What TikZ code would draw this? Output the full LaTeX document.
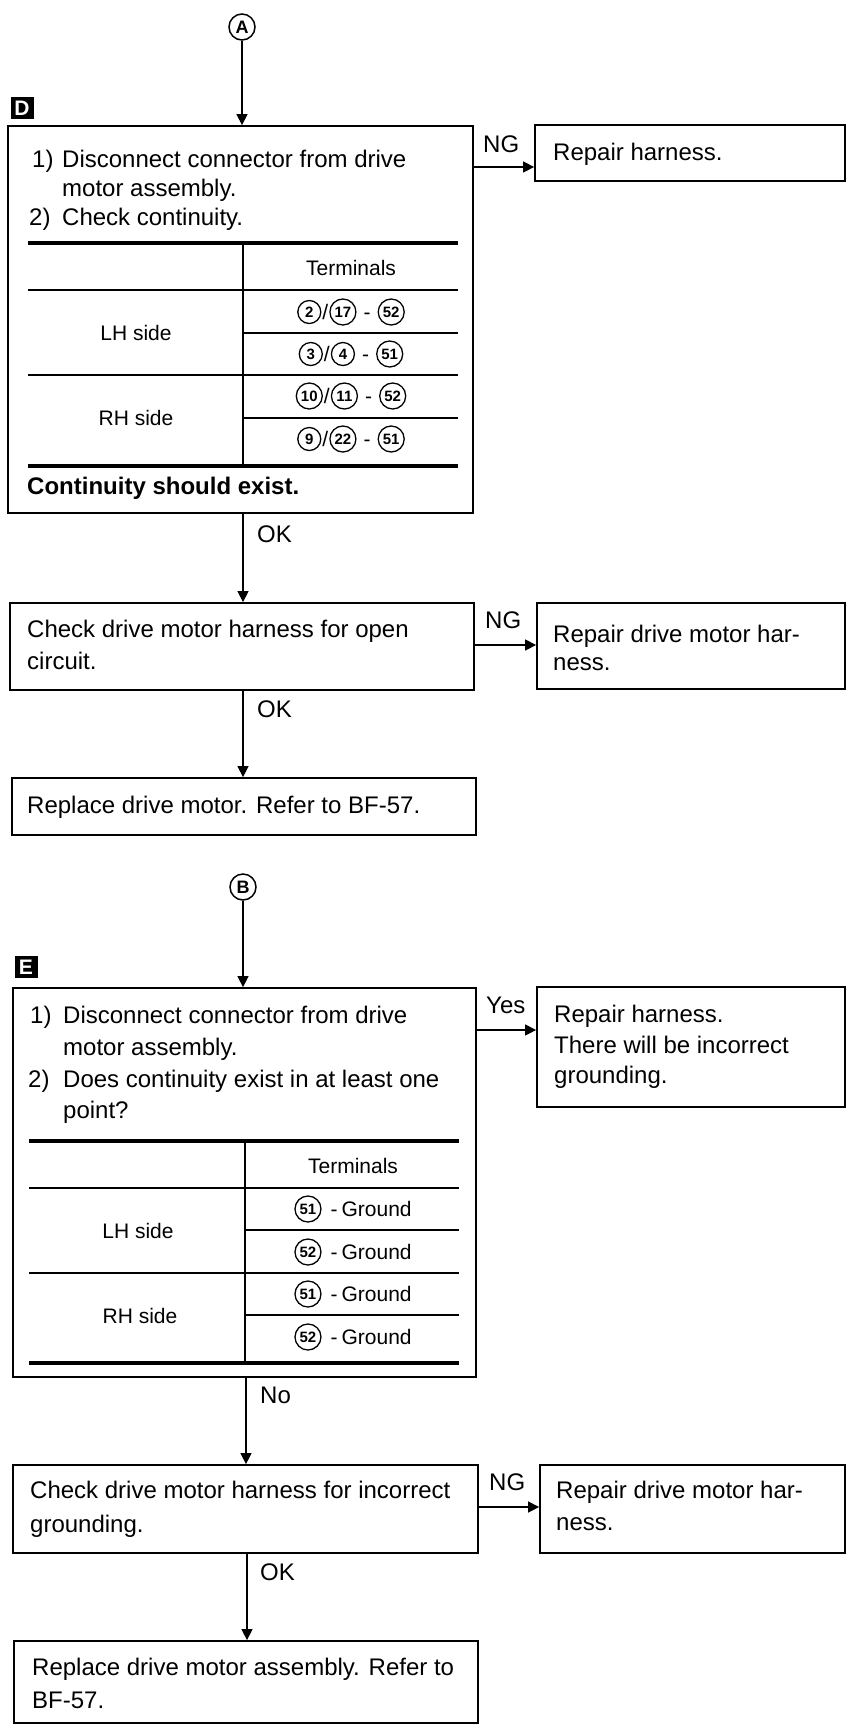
\documentclass[tikz,border=0pt]{standalone}
\usepackage{fontspec}
\setmainfont{Liberation Sans}
\usetikzlibrary{arrows.meta,fit}
\newcommand{\cnum}[2][23pt]{\tikz[baseline={([yshift=-7pt]cn.center)}]\node[circle,draw,line width=1.3pt,inner sep=0pt,minimum size=#1,font=\fontsize{15}{15}\selectfont\bfseries](cn){#2};}
\begin{document}
\begin{tikzpicture}[x=1pt,y=-1pt,
  box/.style={draw,line width=1.8pt,inner sep=0pt},
  txt/.style={anchor=base west,inner sep=0pt,font=\fontsize{24}{24}\selectfont},
  tbl/.style={anchor=center,inner sep=0pt,font=\fontsize{21}{21}\selectfont},
  arr/.style={line width=1.4pt,-{Triangle[length=11pt,width=11pt]}},
  thickrule/.style={line width=3.8pt},
  thinrule/.style={line width=1.6pt},
  secl/.style={fill=black,text=white,font=\fontsize{21}{21}\selectfont\bfseries,inner sep=0pt,minimum width=23pt,minimum height=22pt},
  conn/.style={circle,draw,line width=1.5pt,inner sep=0pt,minimum size=26pt,font=\fontsize{18}{18}\selectfont\bfseries}]
\fill[white] (0,0) rectangle (847,1725);
\useasboundingbox (0,0) rectangle (847,1725);

% ---------- Part D ----------
\node[conn] (A) at (242,27) {A};
\node[secl] (labD) at (22,108) {D};
\node[box,fit={(8,126) (473,513)}] (D) {};
\node[txt] (d1n) at (32,167) {1)};
\node[txt] (d1t) at (62,167) {Disconnect connector from drive};
\node[txt] (d1u) at (62,196) {motor assembly.};
\node[txt] (d2n) at (29,225) {2)};
\node[txt] (d2t) at (62,225) {Check continuity.};

\draw[thickrule] (28,243) -- (458,243);
\draw[thinrule] (243,243) -- (243,466);
\draw[thinrule] (28,290) -- (458,290);
\draw[thinrule] (243,333) -- (458,333);
\draw[thinrule] (28,375) -- (458,375);
\draw[thinrule] (243,418) -- (458,418);
\draw[thickrule] (28,466) -- (458,466);
\node[tbl] (dterm) at (351,268) {Terminals};
\node[tbl] (dlh) at (136,333) {LH side};
\node[tbl] (drh) at (136,418) {RH side};
\node[tbl] (dr1) at (351,312) {\cnum{2}\hspace{1pt}/\hspace{1pt}\cnum[26pt]{17}\hspace{7pt}-\hspace{7pt}\cnum[26pt]{52}};
\node[tbl] (dr2) at (351,354) {\cnum{3}\hspace{1pt}/\hspace{1pt}\cnum{4}\hspace{7pt}-\hspace{7pt}\cnum[26pt]{51}};
\node[tbl] (dr3) at (351,396) {\cnum[26pt]{10}\hspace{1pt}/\hspace{1pt}\cnum[26pt]{11}\hspace{7pt}-\hspace{7pt}\cnum[26pt]{52}};
\node[tbl] (dr4) at (351,439) {\cnum{9}\hspace{1pt}/\hspace{1pt}\cnum[26pt]{22}\hspace{7pt}-\hspace{7pt}\cnum[26pt]{51}};
\node[txt,font=\fontsize{24}{24}\selectfont\bfseries] (dcont) at (27,494) {Continuity should exist.};

\node[box,fit={(535,125) (845,181)}] (R1) {};
\node[txt] (r1t) at (553,160) {Repair harness.};
\node[txt] (ng1) at (483,152) {NG};

\node[box,fit={(10,603) (474,690)}] (C1) {};
\node[txt] (c1a) at (27,637) {Check drive motor harness for open};
\node[txt] (c1b) at (27,669) {circuit.};
\node[txt] (ok1) at (257,542) {OK};

\node[box,fit={(537,603) (845,689)}] (R2) {};
\node[txt] (r2a) at (553,642) {Repair drive motor har-};
\node[txt] (r2b) at (553,670) {ness.};
\node[txt] (ng2) at (485,628) {NG};

\node[box,fit={(12,778) (476,835)}] (P1) {};
\node[txt] (p1t) at (27,813) {Replace drive motor. Refer to BF-57.};
\node[txt] (ok2) at (257,717) {OK};

\draw[arr] (A) -- (A |- D.north);
\draw[arr] (D.east |- 0,167) -- (R1.west |- 0,167);
\draw[arr] (D.south -| 243,0) -- (C1.north -| 243,0);
\draw[arr] (C1.east |- 0,645) -- (R2.west |- 0,645);
\draw[arr] (C1.south -| 243,0) -- (P1.north -| 243,0);

% ---------- Part E ----------
\node[conn] (B) at (243,887) {B};
\node[secl] (labE) at (26,967) {E};
\node[box,fit={(13,988) (476,1377)}] (E) {};
\node[txt] (e1n) at (30,1023) {1)};
\node[txt] (e1t) at (63,1023) {Disconnect connector from drive};
\node[txt] (e1u) at (63,1055) {motor assembly.};
\node[txt] (e2n) at (28,1087) {2)};
\node[txt] (e2t) at (63,1087) {Does continuity exist in at least one};
\node[txt] (e2u) at (63,1118) {point?};

\draw[thickrule] (29,1141) -- (459,1141);
\draw[thinrule] (245,1141) -- (245,1363);
\draw[thinrule] (29,1188) -- (459,1188);
\draw[thinrule] (245,1230) -- (459,1230);
\draw[thinrule] (29,1273) -- (459,1273);
\draw[thinrule] (245,1315) -- (459,1315);
\draw[thickrule] (29,1363) -- (459,1363);
\node[tbl] (eterm) at (353,1166) {Terminals};
\node[tbl] (elh) at (138,1231) {LH side};
\node[tbl] (erh) at (140,1316) {RH side};
\node[tbl] (er1) at (353,1209) {\cnum[26pt]{51}\hspace{9pt}-\hspace{4pt}Ground};
\node[tbl] (er2) at (353,1252) {\cnum[26pt]{52}\hspace{9pt}-\hspace{4pt}Ground};
\node[tbl] (er3) at (353,1294) {\cnum[26pt]{51}\hspace{9pt}-\hspace{4pt}Ground};
\node[tbl] (er4) at (353,1337) {\cnum[26pt]{52}\hspace{9pt}-\hspace{4pt}Ground};

\node[box,fit={(537,987) (845,1107)}] (R3) {};
\node[txt] (r3a) at (554,1022) {Repair harness.};
\node[txt] (r3b) at (554,1053) {There will be incorrect};
\node[txt] (r3c) at (554,1083) {grounding.};
\node[txt] (yes) at (486,1013) {Yes};

\node[box,fit={(13,1465) (478,1553)}] (C2) {};
\node[txt] (c2a) at (30,1498) {Check drive motor harness for incorrect};
\node[txt] (c2b) at (30,1532) {grounding.};
\node[txt] (no) at (260,1403) {No};

\node[box,fit={(540,1465) (845,1553)}] (R4) {};
\node[txt] (r4a) at (556,1498) {Repair drive motor har-};
\node[txt] (r4b) at (556,1530) {ness.};
\node[txt] (ng3) at (489,1490) {NG};

\node[box,fit={(14,1641) (478,1723)}] (P2) {};
\node[txt] (p2a) at (32,1675) {Replace drive motor assembly. Refer to};
\node[txt] (p2b) at (32,1708) {BF-57.};
\node[txt] (ok3) at (260,1580) {OK};

\draw[arr] (B) -- (B |- E.north);
\draw[arr] (E.east |- 0,1030) -- (R3.west |- 0,1030);
\draw[arr] (E.south -| 246,0) -- (C2.north -| 246,0);
\draw[arr] (C2.east |- 0,1507) -- (R4.west |- 0,1507);
\draw[arr] (C2.south -| 247,0) -- (P2.north -| 247,0);
\end{tikzpicture}
\end{document}
